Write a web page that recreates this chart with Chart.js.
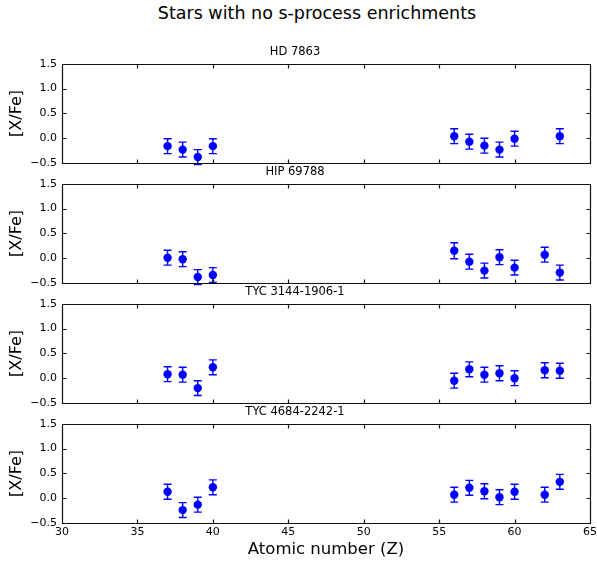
<!DOCTYPE html>
<html>
<head>
<meta charset="utf-8">
<script src="https://cdn.jsdelivr.net/npm/chart.js@4.4.0/dist/chart.umd.min.js"></script>
<style>
  body { margin: 0; background: #fff; width: 597px; height: 567px; position: relative; overflow: hidden; font-family: 'DejaVu Sans', sans-serif; }
  #suptitle { position: absolute; left: 317px; top: 3px; transform: translateX(-50%); font-size: 17.5px; line-height: 20px; white-space: nowrap; color: #000; }
  .panel { position: absolute; left: 0; width: 597px; }
</style>
</head>
<body>
<div id="suptitle">Stars with no s-process enrichments</div>
<div class="panel" style="top:45px;height:126px"><canvas id="panel0"></canvas></div>
<div class="panel" style="top:165px;height:126px"><canvas id="panel1"></canvas></div>
<div class="panel" style="top:285px;height:126px"><canvas id="panel2"></canvas></div>
<div class="panel" style="top:405px;height:158px"><canvas id="panel3"></canvas></div>
<script>
// atomic numbers of the measured elements (Rb, Sr, Y, Zr, Ba, La, Ce, Pr, Nd, Sm, Eu)
const atomicNumbers = [37, 38, 39, 40, 56, 57, 58, 59, 60, 62, 63]
const starNames = ['HD 7863', 'HIP 69788', 'TYC 3144-1906-1', 'TYC 4684-2242-1']

const abundHD7863 = [-0.16, -0.23, -0.38, -0.16, 0.04, -0.07, -0.15, -0.23, -0.01, null, 0.04]
const abundHIP69788 = [0.01, -0.02, -0.38, -0.34, 0.15, -0.07, -0.25, 0.02, -0.19, 0.07, -0.29]
const abundTYC3144 = [0.08, 0.07, -0.20, 0.22, -0.05, 0.18, 0.07, 0.10, 0.00, 0.16, 0.15]
const abundTYC4684 = [0.13, -0.24, -0.13, 0.22, 0.07, 0.21, 0.14, 0.02, 0.13, 0.07, 0.33]

const errHD7863 = [0.15, 0.15, 0.15, 0.15, 0.15, 0.15, 0.15, 0.15, 0.15, null, 0.15]
const errHIP69788 = [0.15, 0.15, 0.15, 0.15, 0.16, 0.15, 0.15, 0.15, 0.15, 0.15, 0.15]
const errTYC3144 = [0.15, 0.15, 0.15, 0.15, 0.15, 0.15, 0.15, 0.15, 0.15, 0.15, 0.15]
const errTYC4684 = [0.15, 0.15, 0.15, 0.15, 0.15, 0.15, 0.15, 0.15, 0.15, 0.15, 0.15]

const xTicks = [30, 35, 40, 45, 50, 55, 60, 65]
const yTicks = [-0.5, 0.0, 0.5, 1.0, 1.5]

const abundances = [abundHD7863, abundHIP69788, abundTYC3144, abundTYC4684]
const errors = [errHD7863, errHIP69788, errTYC3144, errTYC4684]

// error bars under the points, frame + inward ticks on top
const framePlugin = {
    id: 'frame',
    beforeDatasetsDraw(chart) {
        const {ctx, scales: {x, y}} = chart
        ctx.save()
        ctx.strokeStyle = '#0000ff'
        ctx.lineWidth = 1.4
        chart.data.datasets.forEach(ds => {
            ds.data.forEach(p => {
                const px = x.getPixelForValue(p.x)
                const top = y.getPixelForValue(p.y + p.err)
                const bot = y.getPixelForValue(p.y - p.err)
                ctx.beginPath()
                ctx.moveTo(px, top); ctx.lineTo(px, bot)
                ctx.moveTo(px - 4, top); ctx.lineTo(px + 4, top)
                ctx.moveTo(px - 4, bot); ctx.lineTo(px + 4, bot)
                ctx.stroke()
            })
        })
        ctx.restore()
    },
    afterDraw(chart) {
        const {ctx, chartArea: a, scales: {x, y}} = chart
        const L = Math.round(a.left) + 0.5, R = Math.round(a.right) + 0.5
        const T = Math.round(a.top) + 0.5, B = Math.round(a.bottom) + 0.5
        ctx.save()
        ctx.strokeStyle = '#111'
        ctx.lineWidth = 1.2
        ctx.beginPath()
        ctx.rect(L, T, R - L, B - T)
        xTicks.forEach(v => {
            const px = Math.round(x.getPixelForValue(v)) + 0.5
            ctx.moveTo(px, T); ctx.lineTo(px, T + 4)
            ctx.moveTo(px, B); ctx.lineTo(px, B - 4)
        })
        yTicks.forEach(v => {
            const py = Math.round(y.getPixelForValue(v)) + 0.5
            ctx.moveTo(L, py); ctx.lineTo(L + 4, py)
            ctx.moveTo(R, py); ctx.lineTo(R - 4, py)
        })
        ctx.stroke()
        ctx.restore()
    }
}

const fmt = v => (v < 0 ? '\u2212' : '') + Math.abs(v).toFixed(1)

starNames.forEach((name, i) => {
    const last = i === starNames.length - 1
    const points = []
    atomicNumbers.forEach((z, j) => {
        if (abundances[i][j] !== null) points.push({x: z, y: abundances[i][j], err: errors[i][j]})
    })

    new Chart(document.getElementById('panel' + i), {
        type: 'scatter',
        data: {
            datasets: [{
                label: name,
                data: points,
                backgroundColor: '#0000ff',
                borderWidth: 0,
                pointRadius: 4.2,
                clip: false
            }]
        },
        options: {
            responsive: true,
            maintainAspectRatio: false,
            animation: false,
            layout: { padding: { left: 0, right: 7, top: 0, bottom: 0 } },
            plugins: {
                legend: { display: false },
                tooltip: { enabled: false },
                title: {
                    display: true,
                    text: name,
                    color: '#000',
                    font: { family: 'DejaVu Sans', size: 11.5, weight: 'normal' },
                    padding: { top: 0, bottom: 5 }
                }
            },
            scales: {
                x: {
                    type: 'linear',
                    min: 30,
                    max: 65,
                    afterBuildTicks: s => { s.ticks = xTicks.map(v => ({value: v})) },
                    afterFit: s => { s.height = last ? 40 : 8; s.paddingLeft = 0; s.paddingRight = 0 },
                    grid: { display: false, drawTicks: false },
                    border: { display: false },
                    ticks: {
                        display: last,
                        padding: 3,
                        color: '#000',
                        maxRotation: 0,
                        font: { family: 'DejaVu Sans', size: 11 }
                    },
                    title: {
                        display: last,
                        text: 'Atomic number (Z)',
                        color: '#000',
                        font: { family: 'DejaVu Sans', size: 16.5 },
                        padding: { top: 0, bottom: 3 }
                    }
                },
                y: {
                    type: 'linear',
                    min: -0.5,
                    max: 1.5,
                    afterBuildTicks: s => { s.ticks = yTicks.map(v => ({value: v})) },
                    afterFit: s => { s.width = 62; s.paddingTop = 0; s.paddingBottom = 0 },
                    grid: { display: false, drawTicks: false },
                    border: { display: false },
                    ticks: {
                        padding: 5,
                        color: '#000',
                        callback: v => fmt(v),
                        font: { family: 'DejaVu Sans', size: 11 }
                    },
                    title: {
                        display: true,
                        text: '[X/Fe]',
                        color: '#000',
                        font: { family: 'DejaVu Sans', size: 16 },
                        padding: { top: 7, bottom: 0 }
                    }
                }
            }
        },
        plugins: [framePlugin]
    })
})
</script>
</body>
</html>
